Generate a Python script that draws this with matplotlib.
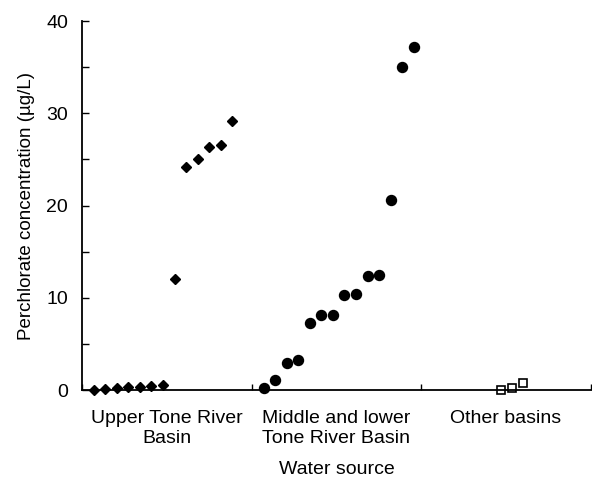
import numpy as np
import matplotlib
matplotlib.use("Agg")
import matplotlib.pyplot as plt

plt.rcParams['font.family'] = ['Liberation Sans', 'DejaVu Sans']

# perchlorate concentration (ug/L), sorted within each basin
upper_tone = [0.0, 0.1, 0.25, 0.3, 0.35, 0.4, 0.55, 12.0, 24.2, 25.1, 26.3, 26.6, 29.2]
mid_lower_tone = [0.25, 1.1, 2.9, 3.2, 7.25, 8.15, 8.15, 10.3, 10.4, 12.4, 12.5, 20.6, 35.0, 37.2]
other = [0.0, 0.2, 0.8]
groups = ["Upper Tone River\nBasin", "Middle and lower\nTone River Basin", "Other basins"]

fig = plt.figure(figsize=(5.92, 4.79), dpi=100)
ax = fig.add_axes([0.1385, 0.1858, 0.8595, 0.7702])

x1 = 1.0 + np.arange(len(upper_tone))
x2 = 15.7 + np.arange(len(mid_lower_tone))
x3 = 36.2 + 0.95 * np.arange(len(other))

ax.plot(x1, upper_tone, 'D', color='black', ms=5, clip_on=False)
ax.plot(x2, mid_lower_tone, 'o', color='black', ms=7.2, clip_on=False)
ax.plot(x3, other, 's', mfc='white', mec='black', mew=1.2, ms=6.2, clip_on=False)

ax.set_xlim(0, 44)
ax.set_ylim(0, 40)

for s in ['top', 'right']:
    ax.spines[s].set_visible(False)
for s in ['left', 'bottom']:
    ax.spines[s].set_linewidth(1.3)

ax.set_yticks([0, 10, 20, 30, 40])
ax.set_yticks([5, 15, 25, 35], minor=True)
ax.tick_params(axis='y', which='both', direction='in', length=5, width=1, pad=10, labelsize=14)

ax.set_xticks([44 / 6, 44 / 2, 44 * 5 / 6])
ax.set_xticklabels(groups, linespacing=1.25)
ax.set_xticks([0, 44 / 3, 88 / 3, 44], minor=True)
ax.tick_params(axis='x', which='major', length=0, pad=14.5, labelsize=14)
ax.tick_params(axis='x', which='minor', direction='in', length=4, width=1)

ax.set_xlabel("Water source", fontsize=14, labelpad=10)
ax.set_ylabel("Perchlorate concentration (µg/L)", fontsize=13.5, labelpad=8)

fig.savefig("out.png", dpi=100)
